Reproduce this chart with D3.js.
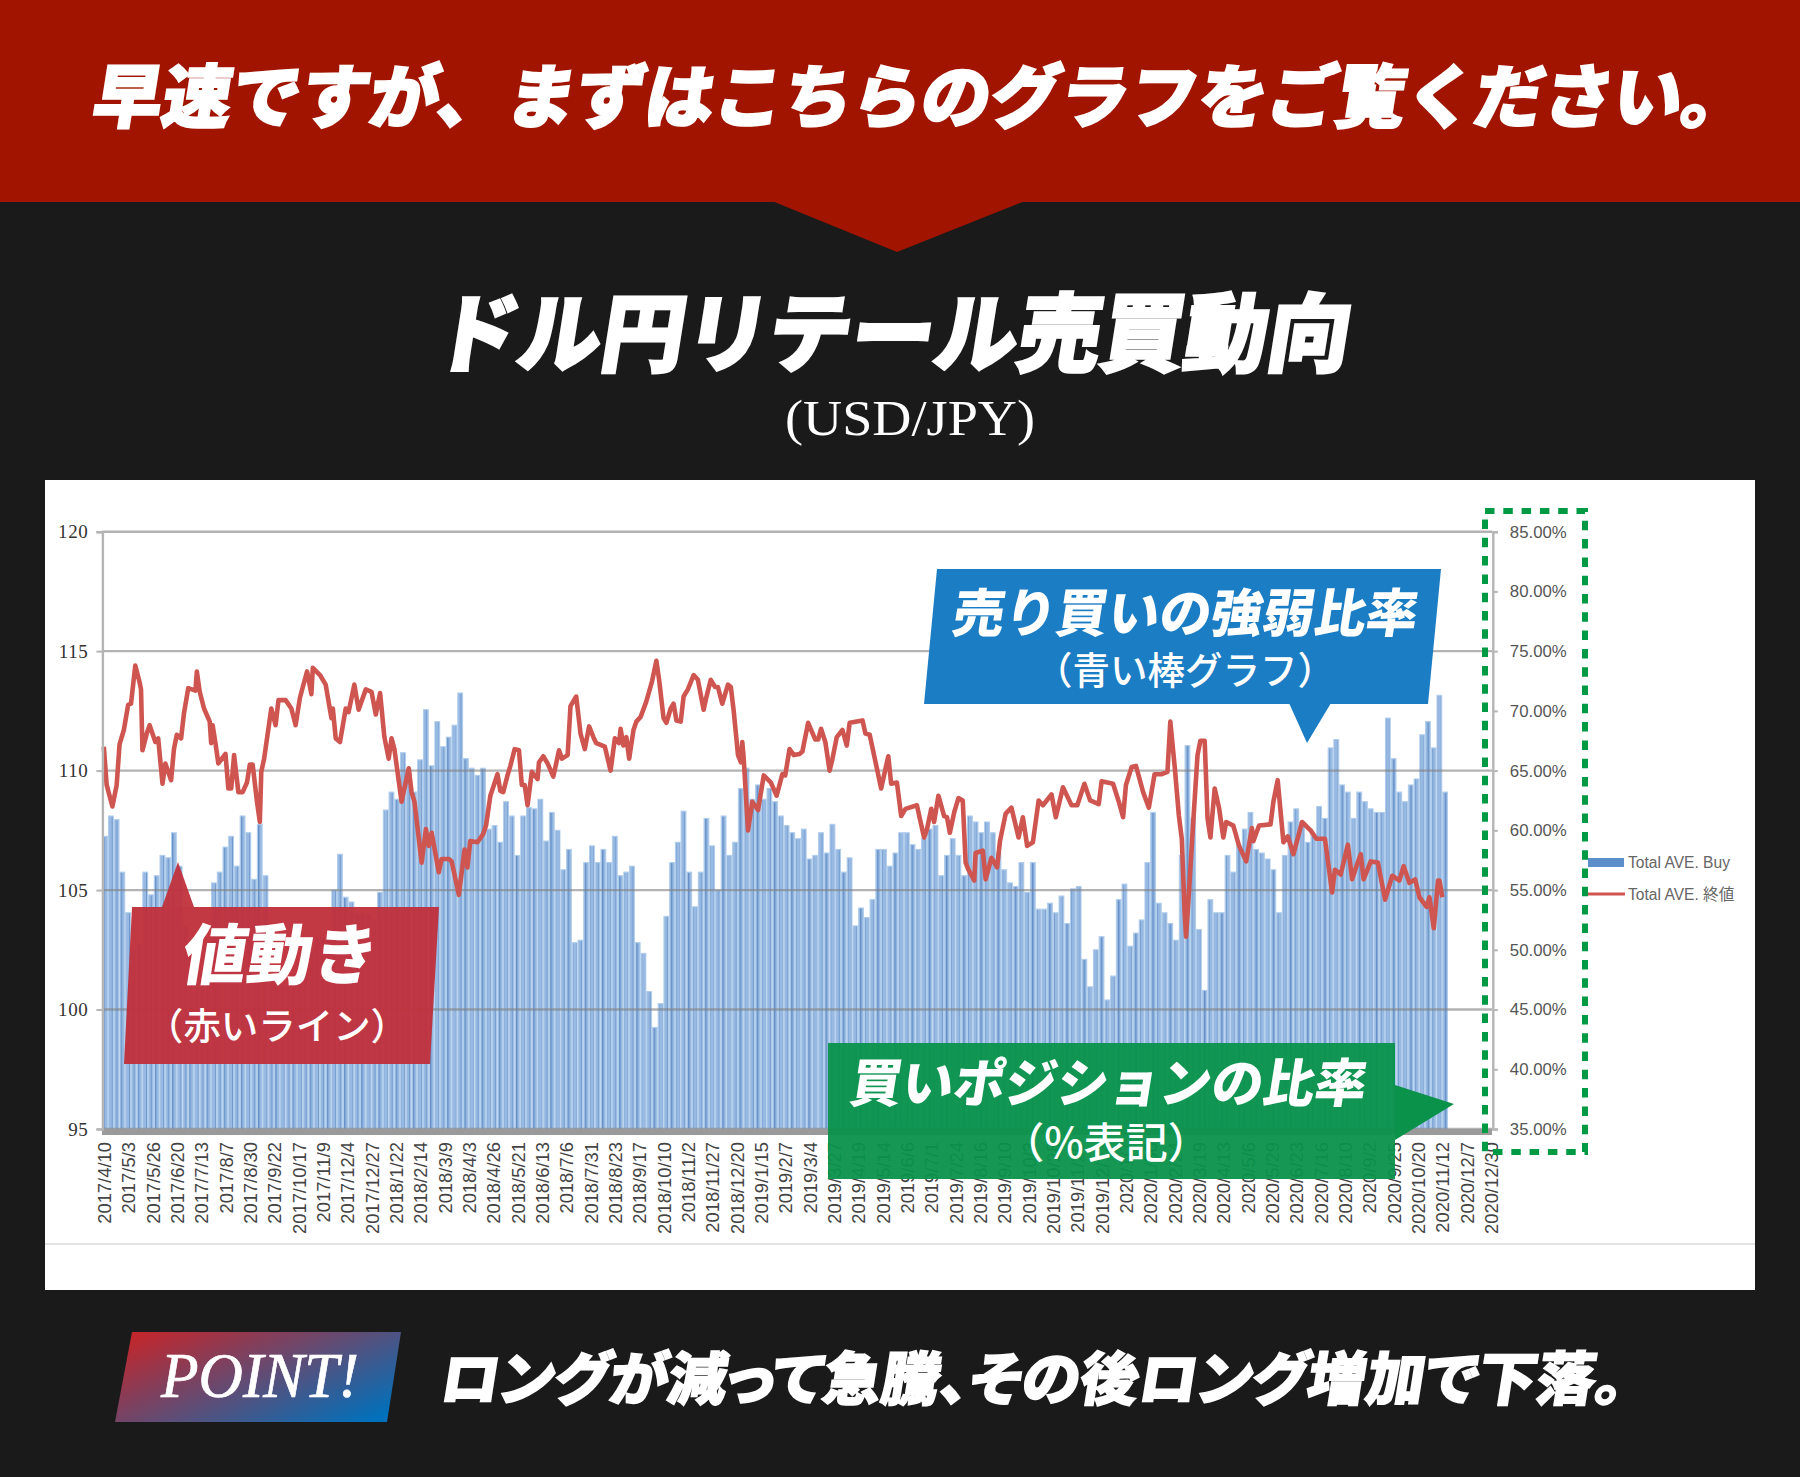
<!DOCTYPE html>
<html>
<head>
<meta charset="utf-8">
<script src="https://cdn.jsdelivr.net/npm/d3@7"></script>
<style>
body { margin: 0; background: #1a1a1a; }
svg { display: block; }
.jp { font-family: "Noto Sans CJK JP", sans-serif; fill: #fff; }
.heavy { font-weight: 900; stroke: #fff; }
</style>
</head>
<body>
<svg id="chart" width="1800" height="1477"></svg>
<script>
var width = 1800;
var height = 1477;

// x axis labels, one every 17 business days
var dateLabels = ["2017/4/10","2017/5/3","2017/5/26","2017/6/20","2017/7/13","2017/8/7","2017/8/30","2017/9/22","2017/10/17","2017/11/9","2017/12/4","2017/12/27",
	"2018/1/22","2018/2/14","2018/3/9","2018/4/3","2018/4/26","2018/5/21","2018/6/13","2018/7/6","2018/7/31","2018/8/23","2018/9/17","2018/10/10","2018/11/2","2018/11/27","2018/12/20",
	"2019/1/15","2019/2/7","2019/3/4","2019/3/27","2019/4/19","2019/5/14","2019/6/6","2019/7/1","2019/7/24","2019/8/16","2019/9/10","2019/10/3","2019/10/28","2019/11/20","2019/12/13",
	"2020/1/7","2020/1/30","2020/2/24","2020/3/19","2020/4/13","2020/5/6","2020/5/29","2020/6/23","2020/7/16","2020/8/10","2020/9/2","2020/9/25","2020/10/20","2020/11/12","2020/12/7","2020/12/30"];
var labelStep = 17;

var priceTicks = [95, 100, 105, 110, 115, 120];
var pctTicks = [35, 40, 45, 50, 55, 60, 65, 70, 75, 80, 85];

// Total AVE. Buy, read every 4 business days (percent)
var barStep = 4;
var buyPct = [59.5,61.2,60.9,56.5,53.1,50,50.5,56.5,54.6,56.2,57.9,57.7,59.8,57,52,50,48,48,50,55.6,
	56.5,58.6,59.5,57,61.2,59.8,55.9,60.5,56.2,48,47,47,47,48,49,50,50,51,51,51,
	55,58,54.4,54,53,53,53,52.5,54.8,61.7,63.2,62.6,66.5,64.9,63.2,65.9,70.1,65.4,69.1,67,
	67.8,68.8,71.5,66,65.2,64.6,65.2,60.1,60.4,59,62.4,61.2,57.9,61.2,61.9,61.8,62.6,59.1,61.5,60,
	56.7,58.4,50.6,50.8,57.3,58.7,57.3,58.4,57.3,59.5,56.2,56.5,57,50.6,49.7,46.5,43.5,45.5,52.8,57.3,
	59,61.6,56.5,53.6,56.5,61,58.7,55,61.2,57.9,59,63.5,65.2,62.6,63.8,62.6,63.5,62.4,61.2,60.4,
	59.8,59.3,60.1,57.6,57.9,59.8,58.1,60.5,58.4,56.5,57.7,52,53.5,52.7,54.2,58.4,58.4,57,58.1,59.8,
	59.8,58.8,58.4,59.3,60.1,60.4,56.2,57.9,59.3,57.9,56.2,61.2,60.7,59.8,60.7,59.8,58.1,56.7,55.6,55.3,
	57.3,54.8,57.3,53.4,53.4,53.9,53.1,54.5,52.2,55.1,55.3,49.2,46.9,50,51.1,45.8,47.8,54.2,55.5,50.3,
	51.4,52.5,57.3,61.5,53.9,53.1,52.2,50.8,57.9,67.1,61,51.7,46.6,54.2,53.1,53.1,57.9,56.5,58.7,60.1,
	61.5,58.4,58.1,57.6,56.7,53.1,57.9,60.7,61.8,60.7,59,59.6,62,61,66.9,67.6,63.8,63.2,61,63.2,
	62.4,61.8,61.5,61.5,69.4,66,63.2,62.4,63.8,64.3,68,69.1,66.9,71.3,63.2];

// Total AVE. 終値, turning points of the line: business day number and close
var closeDays = [0,2,6,9,11,14,17,19,22,25,26,27,30,32,36,38,41,43,47,49,51,54,56,59,64,65,67,70,74,75,76,78,80,85,87,89,91,94,97,100,102,104,107,109,110,112,
	117,120,122,127,131,134,137,142,145,146,151,155,159,160,162,165,169,171,175,178,183,187,190,193,196,199,201,203,208,213,215,217,222,225,227,229,234,236,241,
	243,248,252,254,256,261,265,267,270,272,275,277,279,282,284,287,290,292,294,296,299,303,304,307,310,314,318,320,324,326,330,333,336,339,342,344,350,354,357,360,361,363,365,367,370,372,375,379,383,386,388,391,393,396,398,400,403,405,408,412,415,419,421,424,427,429,432,436,438,440,443,445,446,447,450,453,457,461,466,470,474,476,479,482,486,
	488,492,497,499,501,504,507,509,512,516,519,521,530,532,535,540,543,545,548,550,554,557,560,568,570,573,575,578,580,583,587,589,591,594,597,
	600,602,604,608,609,614,616,620,624,626,630,634,639,642,645,649,653,656,662,665,670,676,680,685,689,695,697,705,709,712,714,718,721,726,730,734,739,743,
	745,748,751,753,755,756,758,761,764,766,769,771,773,776,779,782,784,789,793,798,802,803,807,815,817,820,824,827,831,837,843,847,853,858,860,864,869,872,875,878,880,885,890,895,900,905,908,912,916,919,924,926,929,932,933,935];
var closeValues = [111,109.4,108.5,109.4,111.1,111.7,112.75,112.8,114.4,113.7,113.4,110.85,111.55,111.9,111.2,111.35,109.45,110.3,109.6,110.9,111.5,111.35,112.4,113.45,113.35,114.15,113.3,112.6,112.05,111.15,111.9,111.15,110.3,110.7,109.25,109.25,110.65,109.1,109.1,109.5,110.25,110.25,108.7,107.85,109.95,110.5,
	112.6,111.9,112.95,112.95,112.6,111.9,113.05,114.15,113.2,114.3,114,113.6,112.2,112.6,111.35,111.2,112.6,112.45,113.6,112.55,113.4,113.3,112.35,113.25,111.4,110.5,111.35,110.9,108.7,110.1,109.1,108.7,106.15,107.55,106.85,107.4,105.75,106.3,106.3,
	106.2,104.8,106.7,105.95,107.05,107,107.35,107.7,108.95,109.3,109.85,109.15,109.1,109.8,110.2,110.9,110.85,109.4,109.4,108.55,109.95,109.65,110.35,110.6,110.3,109.75,110.85,110.5,110.65,112.7,113.1,111.55,110.9,111.85,111.4,111.15,111,110,111.35,111.15,111.75,111.05,111.4,110.5,111.7,112.05,112.25,112.9,113.75,114.6,113.75,112.2,112,112.6,112.8,112.1,112.05,113.1,113.4,114,113.8,112.55,113.1,113.8,113.5,113.5,112.8,113.6,113.5,112.5,110.65,110.35,111.2,110.5,107.5,108.7,108.35,109.8,109.5,108.95,109.85,109.8,110.9,110.65,110.7,
	110.8,112,111.3,111.3,111.75,111.2,110,110.5,111.4,111.7,111.05,112,112.1,111.55,111.5,110.1,109.25,109.8,110.6,109.45,109.5,108.1,108.4,108.55,108,107.2,107.55,108.4,107.85,108.95,108.1,108.05,107.4,108.25,108.85,
	108.75,106.15,105.85,105.4,106.55,106.65,105.45,106.35,105.95,107.05,108.2,108.45,107.2,108.05,106.85,107,108.75,108.55,109,108.05,109.3,108.55,108.55,109.45,108.75,108.6,109.55,109.45,108.7,108.05,109.4,110.15,110.2,109.1,108.45,109.85,109.85,109.95,
	112.05,110.2,108.1,107.15,104.05,103.05,104.9,107.85,110.65,111.25,111.25,108,107.2,109.25,108.45,107.2,107.85,107.7,106.85,106.2,107.6,107.05,107.7,107.75,108.7,109.6,107,107.25,106.5,107.85,107.5,107.15,107.15,104.9,105.85,105.65,106.9,105.45,106,106.5,105.45,106.2,106.15,104.6,105.6,105.4,106,105.3,105.45,104.7,104.3,104.7,103.4,105.4,105.4,104.7];

var legendLabels = ["Total AVE. Buy", "Total AVE. 終値"];

var svg = d3.select("#chart");

// scales
var xDay = d3.scaleLinear().domain([0, (dateLabels.length - 1) * labelStep]).range([103.8, 1491]);
var yPrice = d3.scaleLinear().domain([95, 120]).range([1129, 531.7]);
var yPct = d3.scaleLinear().domain([35, 85]).range([1129, 531.7]);

// gradient for the POINT box and stripes for the bars
var defs = svg.append("defs");
var grad = defs.append("linearGradient").attr("id", "pointGrad")
	.attr("x1", "0%").attr("y1", "15%").attr("x2", "100%").attr("y2", "85%");
grad.append("stop").attr("offset", "0%").attr("stop-color", "#c1272d");
grad.append("stop").attr("offset", "100%").attr("stop-color", "#0071bc");

var stripes = defs.append("pattern").attr("id", "barStripes")
	.attr("patternUnits", "userSpaceOnUse").attr("width", 8.6).attr("height", 10);
stripes.append("rect").attr("width", 8.6).attr("height", 10).attr("fill", "#97b9e2");
stripes.append("rect").attr("x", 0).attr("width", 1.4).attr("height", 10).attr("fill", "#6690c6");
stripes.append("rect").attr("x", 4.6).attr("width", 1.1).attr("height", 10).attr("fill", "#769ed0");

// page furniture
svg.append("rect").attr("width", width).attr("height", height).attr("fill", "#1a1a1a");
svg.append("rect").attr("width", width).attr("height", 202).attr("fill", "#a01400");
svg.append("polygon").attr("points", "772,201 1025,201 897,252").attr("fill", "#a01400");
svg.append("rect").attr("x", 45).attr("y", 480).attr("width", 1710).attr("height", 810).attr("fill", "#fff");
svg.append("line").attr("x1", 45).attr("x2", 1755).attr("y1", 1244).attr("y2", 1244).attr("stroke", "#dcdcdc").attr("stroke-width", 1.5);

// slanted or upright japanese text, centred on x with its baseline on y
function jpText(cls, x, y, size, len, str, strokeW, slant) {
	var t = svg.append("text").attr("class", cls)
		.attr("transform", "translate(" + x + "," + y + ") skewX(" + (slant || 0) + ")")
		.attr("text-anchor", "middle")
		.style("font-size", size + "px")
		.text(str);
	if (len) t.attr("textLength", len).attr("lengthAdjust", "spacingAndGlyphs");
	if (strokeW) t.style("stroke-width", strokeW);
	return t;
}

jpText("jp heavy", 919, 122, 69, 1658, "早速ですが、まずはこちらのグラフをご覧ください。", 2.2, -9);
jpText("jp heavy", 889, 365, 86, 916, "ドル円リテール売買動向", 2.5, -9);
svg.append("text").attr("x", 910).attr("y", 435)
	.attr("text-anchor", "middle")
	.attr("textLength", 250).attr("lengthAdjust", "spacingAndGlyphs")
	.style("font-family", "Liberation Serif").style("font-size", "50px").attr("fill", "#fff")
	.text("(USD/JPY)");

// bars
svg.append("g").selectAll("rect")
	.data(buyPct)
	.enter().append("rect")
	.attr("x", function (d, i) { return xDay(i * barStep) - 1; })
	.attr("width", xDay(barStep) - xDay(0) - 1)
	.attr("y", function (d) { return yPct(d); })
	.attr("height", function (d) { return yPct(35) - yPct(d); })
	.attr("fill", "url(#barStripes)")
	.attr("stroke", "#b0cdec")
	.attr("stroke-width", 1.1);

// grid lines sit over the bars in the reference
svg.append("g").selectAll("line")
	.data(priceTicks)
	.enter().append("line")
	.attr("x1", xDay(0) - 2).attr("x2", 1492)
	.attr("y1", function (d) { return yPrice(d); })
	.attr("y2", function (d) { return yPrice(d); })
	.attr("stroke", "#808080").attr("stroke-opacity", 0.6).attr("stroke-width", 2.4);

// thick base line
svg.append("line").attr("x1", 102).attr("x2", 1492).attr("y1", 1132).attr("y2", 1132)
	.attr("stroke", "#9a9a9a").attr("stroke-width", 6);

// close line
var closeLine = d3.line()
	.x(function (d, i) { return xDay(closeDays[i]); })
	.y(function (d) { return yPrice(d); });
svg.append("path").datum(closeValues)
	.attr("d", closeLine)
	.attr("fill", "none")
	.attr("stroke", "#cf5650")
	.attr("stroke-width", 4.6)
	.attr("stroke-linejoin", "round");

// axes
var axisLeft = d3.axisLeft(yPrice).tickValues(priceTicks).tickSize(6).tickPadding(8);
var gLeft = svg.append("g").attr("transform", "translate(102.4,0)").call(axisLeft);
gLeft.selectAll("text").style("font-family", "Liberation Serif").style("font-size", "19px").style("letter-spacing", "0.6px").attr("fill", "#333");

var axisRight = d3.axisRight(yPct).tickValues(pctTicks).tickSize(5).tickPadding(12)
	.tickFormat(function (d) { return d.toFixed(2) + "%"; });
var gRight = svg.append("g").attr("transform", "translate(1492.8,0)").call(axisRight);
gRight.selectAll("text").style("font-family", "Liberation Sans").style("font-size", "16.8px").attr("fill", "#555");

svg.selectAll(".domain").attr("stroke", "#b5b5b5").attr("stroke-width", 2.4);
svg.selectAll(".tick line").attr("stroke", "#b5b5b5").attr("stroke-width", 2);

var axisDates = d3.axisBottom(xDay)
	.tickValues(dateLabels.map(function (d, i) { return i * labelStep; }))
	.tickSize(0)
	.tickFormat(function (d) { return dateLabels[d / labelStep]; });
var gDates = svg.append("g").attr("transform", "translate(0,1142)").call(axisDates);
gDates.select(".domain").remove();
gDates.selectAll("text")
	.attr("transform", "rotate(-90)")
	.attr("x", 0).attr("y", 0).attr("dx", 0).attr("dy", "0.36em")
	.attr("text-anchor", "end")
	.style("font-family", "Liberation Sans").style("font-size", "18.4px")
	.attr("fill", "#444");

// right side: dashed frame and legend
svg.append("rect").attr("x", 1485).attr("y", 511).attr("width", 100).attr("height", 641)
	.attr("fill", "none").attr("stroke", "#009944").attr("stroke-width", 6)
	.attr("stroke-dasharray", "9.5 8.8");

svg.append("rect").attr("x", 1588).attr("y", 858).attr("width", 36).attr("height", 9).attr("fill", "#5b8fc9");
svg.append("line").attr("x1", 1588).attr("x2", 1625).attr("y1", 894).attr("y2", 894).attr("stroke", "#cf5650").attr("stroke-width", 3);
svg.append("g").selectAll("text").data(legendLabels).enter().append("text")
	.attr("x", 1628)
	.attr("y", function (d, i) { return 868 + i * 32; })
	.style("font-family", "Liberation Sans, Noto Sans CJK JP").style("font-size", "15.6px")
	.attr("fill", "#666")
	.text(function (d) { return d; });

// callouts
svg.append("polygon").attr("points", "162,907 178,862 194,907").attr("fill", "#c0313c").attr("fill-opacity", 0.95);
svg.append("polygon").attr("points", "132,907 439,907 430,1064 124,1064").attr("fill", "#c0313c").attr("fill-opacity", 0.96);
jpText("jp", 277, 979, 66, 195, "値動き", 0, -9).style("font-weight", 900);
jpText("jp", 277, 1040, 37, 262, "（赤いライン）", 0, 0).style("font-weight", 500);

svg.append("polygon").attr("points", "1289,703 1331,703 1307,743").attr("fill", "#1b7dc4");
svg.append("polygon").attr("points", "937,569 1441,569 1428,704 924,704").attr("fill", "#1b7dc4");
jpText("jp", 1183, 632, 52, 465, "売り買いの強弱比率", 0, -9).style("font-weight", 900);
jpText("jp", 1185, 684, 38, 300, "（青い棒グラフ）", 0, 0).style("font-weight", 500);

svg.append("polygon").attr("points", "1395,1085 1454,1104 1395,1140").attr("fill", "#0a924b");
svg.append("rect").attr("x", 828).attr("y", 1043).attr("width", 567).attr("height", 136).attr("fill", "#0a924b").attr("fill-opacity", 0.95);
jpText("jp", 1106, 1102, 52, 516, "買いポジションの比率", 0, -9).style("font-weight", 900);
jpText("jp", 1106, 1158, 42, 0, "（%表記）", 0, 0).style("font-weight", 500);

// bottom strip
svg.append("polygon").attr("points", "132,1332 401,1332 387,1422 115,1422").attr("fill", "url(#pointGrad)");
svg.append("text").attr("x", 260).attr("y", 1397).attr("text-anchor", "middle")
	.attr("textLength", 198).attr("lengthAdjust", "spacingAndGlyphs")
	.style("font-family", "Liberation Serif").style("font-style", "italic").style("font-size", "63px")
	.attr("fill", "#fff").attr("stroke", "#fff").attr("stroke-width", 0.7)
	.text("POINT!");
jpText("jp heavy", 1030, 1400, 58, 1184, "ロングが減って急騰、その後ロング増加で下落。", 1.6, -9)
	.style("font-feature-settings", "'palt'");
</script>
</body>
</html>
